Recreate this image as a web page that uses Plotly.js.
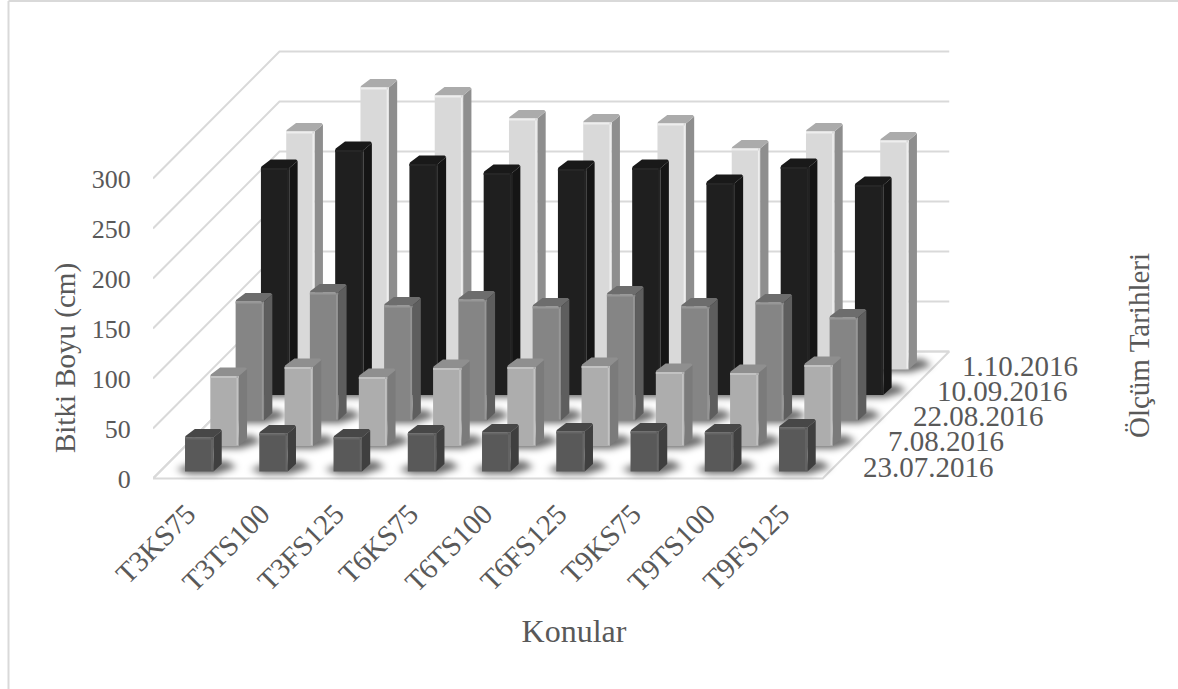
<!DOCTYPE html>
<html>
<head>
<meta charset="utf-8">
<script src="https://cdn.plot.ly/plotly-3.0.0.min.js"></script>
<style>html,body{margin:0;padding:0;background:#fff}</style>
</head>
<body>
<div id="chart" style="width:1178px;height:689px"></div>
<script>
// Plant height per treatment, one list per measuring date
const konular = ["T3KS75","T3TS100","T3FS125","T6KS75","T6TS100","T6FS125","T9KS75","T9TS100","T9FS125"];
const tarihler = ["23.07.2016","7.08.2016","22.08.2016","10.09.2016","1.10.2016"];
const h230716 = [34,38,34,38,39,40,40,39,44];
const h070816 = [70,79,69,78,79,80,74,73,81];
const h220816 = [119,128,115,121,114,126,114,118,103];
const h100916 = [227,245,231,222,226,227,212,228,210];
const h011016 = [238,282,274,251,247,246,221,238,229];
const yTicks = [0,50,100,150,200,250,300];

const series = [h230716,h070816,h220816,h100916,h011016];

// Face shades for each date: front, side, top, highlight
const shades = [
  {front:"#595959", side:"#3f3f3f", top:"#474747", hi:"#666666"},
  {front:"#adadad", side:"#7b7b7b", top:"#8f8f8f", hi:"#c2c2c2"},
  {front:"#858585", side:"#5e5e5e", top:"#6d6d6d", hi:"#979797"},
  {front:"#1f1f1f", side:"#151515", top:"#191919", hi:"#262626"},
  {front:"#d9d9d9", side:"#8e8e8e", top:"#ababab", hi:"#eeeeee"}
];

// Oblique projection: one category step on the axis is this many pixels,
// and one value unit on the axis is one pixel.
const catPx = 74.25;
const px = p => p / catPx;
const rowX = r => px(9.1 + 25.3 * r);     // sideways shift of a date row
const rowY = r => 7 + 25.5 * r;           // upward shift of a date row
const barW = px(28.4), barHalf = barW / 2;
const capX = px(8.3), capY = 8.5;
const floorX = px(126.5), floorY = 127;
const catMin = -0.5, catMax = 8.52;

const traces = [];
const shadowTraces = [];
function poly(name, color, shapes) {
  const x = [], y = [];
  shapes.forEach(s => { s.forEach(p => { x.push(p[0]); y.push(p[1]); }); x.push(s[0][0], null); y.push(s[0][1], null); });
  traces.push({type:"scatter", mode:"lines", name, x, y, fill:"toself", fillcolor:color,
    line:{width:0, color:color}, hoverinfo:"skip", showlegend:false, connectgaps:false});
}
function line(name, x, y) {
  traces.push({type:"scatter", mode:"lines", name, x, y, line:{color:"#d9d9d9", width:2},
    hoverinfo:"skip", showlegend:false});
}

// Back walls and floor outline
yTicks.forEach(v => {
  line("grid " + v, [catMin, catMin + floorX, catMax + floorX], [v, v + floorY, v + floorY]);
});
line("floor", [catMin, catMax, catMax + floorX, catMin + floorX, catMin], [0, 0, floorY, floorY, 0]);

// Rows are painted from the back date to the front date
for (let r = series.length - 1; r >= 0; r--) {
  const vals = series[r], c = shades[r];
  const bars = vals.map((v, i) => {
    const x0 = i + rowX(r) - barHalf, x1 = x0 + barW, b = rowY(r), t = b + v;
    return {x0, x1, b, t};
  });
  // Floor shadow; blurred once the plot is drawn
  shadowTraces.push(traces.length);
  poly("gölge " + tarihler[r], "rgba(0,0,0,0.6)", bars.map(k => [
    [k.x0 - px(9), k.b + 2],
    [k.x0 + px(4), k.b - 2.5],
    [k.x1 + px(2), k.b - 2.5],
    [k.x1 + capX + px(15), k.b + capY * 0.5],
    [k.x1 + capX + px(5), k.b + capY + 2],
    [k.x0 + capX, k.b + capY]
  ]));
  poly("yan " + tarihler[r], c.side, bars.map(k => [
    [k.x1, k.b], [k.x1 + capX, k.b + capY - 1], [k.x1 + capX, k.t + capY - 1.5], [k.x1, k.t]
  ]));
  poly("üst " + tarihler[r], c.top, bars.map(k => [
    [k.x0, k.t], [k.x1, k.t], [k.x1 + capX, k.t + capY - 1.5], [k.x1 + capX - px(1.5), k.t + capY],
    [k.x0 + capX + px(1.5), k.t + capY], [k.x0 + px(0.5), k.t + 1.5]
  ]));
  poly(tarihler[r], c.front, bars.map(k => [
    [k.x0, k.b], [k.x1, k.b], [k.x1, k.t], [k.x0, k.t]
  ]));
  // Bevel highlights along the top and right edge of the front face
  poly("parlak " + tarihler[r], c.hi, bars.map(k => [
    [k.x0, k.t], [k.x1, k.t], [k.x1, k.t - 2], [k.x0, k.t - 2]
  ]).concat(bars.map(k => [
    [k.x1 - px(2.2), k.b + 1], [k.x1 - px(0.6), k.b + 1], [k.x1 - px(0.6), k.t], [k.x1 - px(2.2), k.t]
  ])));
}

const textColor = "#595959";
const serif = "'Liberation Serif','Times New Roman',serif";

// Date labels climb the right edge of the floor
const dateAnn = tarihler.map((d, r) => ({
  x: catMin + px(708 + 24.8 * r), y: 12 + 25.2 * r, xref:"x", yref:"y",
  text:d, showarrow:false, xanchor:"left", yanchor:"middle",
  font:{family:serif, size:29, color:textColor}
}));

const plotTop = 32, plotBottom = 684, zeroAt = 478.5, plotLeft = 153, plotRight = 995;
const plotW = plotRight - plotLeft, plotH = plotBottom - plotTop;

Plotly.newPlot("chart", traces, {
  width:1178, height:689,
  margin:{l:plotLeft, r:1178 - plotRight, t:plotTop, b:689 - plotBottom, pad:0},
  paper_bgcolor:"#fff", plot_bgcolor:"rgba(0,0,0,0)",
  showlegend:false, hovermode:false,
  xaxis:{
    range:[catMin, catMin + px(plotW)],
    anchor:"free", position:(plotBottom - zeroAt) / plotH,
    tickmode:"array", tickvals:konular.map((_, i) => i), ticktext:konular,
    tickangle:-45, ticks:"outside", ticklen:6, tickcolor:"rgba(0,0,0,0)", ticklabelshift:-3,
    showgrid:false, zeroline:false, showline:false,
    tickfont:{family:serif, size:29, color:textColor},
    title:{text:"Konular", standoff:22, font:{family:serif, size:32, color:textColor}}
  },
  yaxis:{
    range:[zeroAt - plotBottom, zeroAt - plotTop],
    tickmode:"array", tickvals:yTicks,
    ticks:"outside", ticklen:16, tickcolor:"rgba(0,0,0,0)",
    showgrid:false, zeroline:false, showline:false,
    tickfont:{family:serif, size:26, color:textColor},
    title:{text:"Bitki Boyu (cm)", standoff:7, font:{family:serif, size:29, color:textColor}}
  },
  annotations:dateAnn.concat([{
    x:(1139 - plotLeft) / plotW, y:(plotBottom - 346) / plotH, xref:"paper", yref:"paper",
    xanchor:"center", yanchor:"middle",
    text:"Ölçüm Tarihleri", showarrow:false, textangle:-90,
    font:{family:serif, size:29, color:textColor}
  }]),
  // Chart frame: top and left edges only
  shapes:[
    {type:"line", xref:"paper", yref:"paper",
     x0:(8.5 - plotLeft) / plotW, x1:(1178 - plotLeft) / plotW,
     y0:(plotBottom - 1) / plotH, y1:(plotBottom - 1) / plotH,
     line:{color:"#d9d9d9", width:2}},
    {type:"line", xref:"paper", yref:"paper",
     x0:(8.5 - plotLeft) / plotW, x1:(8.5 - plotLeft) / plotW,
     y0:(plotBottom - 1) / plotH, y1:(plotBottom - 689) / plotH,
     line:{color:"#d9d9d9", width:2}}
  ]
}, {displayModeBar:false, staticPlot:true}).then(gd => {
  const nodes = gd.querySelectorAll(".scatterlayer .trace");
  shadowTraces.forEach(i => { if (nodes[i]) nodes[i].style.filter = "blur(3.5px)"; });
});
</script>
</body>
</html>
